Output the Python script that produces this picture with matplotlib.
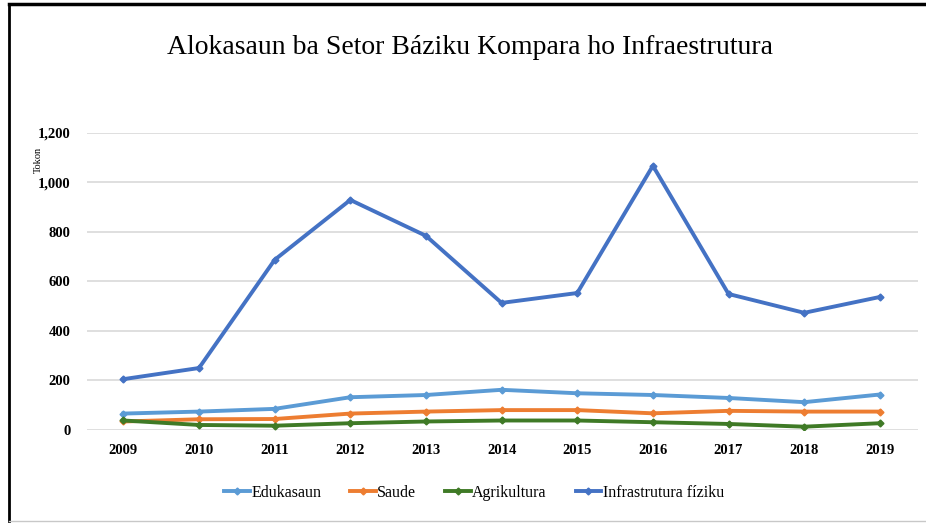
import matplotlib.pyplot as plt
from matplotlib.lines import Line2D
from matplotlib import font_manager

years = [2009, 2010, 2011, 2012, 2013, 2014, 2015, 2016, 2017, 2018, 2019]
edukasaun = [66, 74, 85, 132, 141, 162, 148, 141, 129, 112, 143]
saude = [34, 43, 44, 66, 74, 80, 80, 67, 77, 74, 74]
agrikultura = [38, 20, 17, 27, 34, 38, 38, 31, 24, 13, 27]
infrastrutura = [205, 250, 687, 929, 784, 513, 553, 1067, 549, 473, 537]
yticks = [0, 200, 400, 600, 800, 1000, 1200]

series = [
  ('Edukasaun', edukasaun, '#5B9BD5'),
  ('Saude', saude, '#ED7D31'),
  ('Agrikultura', agrikultura, '#3F7A26'),
  ('Infrastrutura fíziku', infrastrutura, '#4472C4'),
]

# condensed serif for the title if there is one
names = set(f.name for f in font_manager.fontManager.ttflist)
title_font = 'DejaVu Serif Condensed' if 'DejaVu Serif Condensed' in names else 'Liberation Serif'
print(sorted(n for n in names if 'Serif' in n or 'Narrow' in n or 'Condensed' in n))

fig = plt.figure(figsize=(9.26, 5.23), dpi=100)
ax = fig.add_axes([0.094, 0.178, 0.897, 0.568])

for name, vals, col in series:
  ax.plot(years, vals, color=col, lw=2.8, marker='D', ms=3.5, label=name)

ax.set_xlim(2008.52, 2019.5)
ax.set_ylim(0, 1200)
ax.set_xticks(years)
ax.set_xticklabels([str(y) for y in years], family='Liberation Serif',
                   fontweight='bold', fontsize=10.5)
ax.set_yticks(yticks)
ax.set_yticklabels(['{:,}'.format(v) for v in yticks], family='Liberation Serif',
                   fontweight='bold', fontsize=10.5)
ax.tick_params(length=0, pad=12)
ax.tick_params(axis='x', pad=10)
ax.grid(axis='y', color='#D9D9D9', lw=1.2)
ax.set_axisbelow(True)
for s in ax.spines.values():
  s.set_visible(False)

fig.text(0.041, 0.695, 'Tokon', rotation=90, family='Liberation Serif',
         fontsize=7.5, ha='center', va='center')

fig.text(0.508, 0.91, 'Alokasaun ba Setor Báziku Kompara ho Infraestrutura',
         family=title_font, fontsize=20, ha='center', va='center')

handles = [Line2D([], [], color=col, lw=2.8, marker='D', ms=3.5)
           for _, _, col in series]
fig.legend(handles, [n for n, _, _ in series], loc='center',
           bbox_to_anchor=(0.512, 0.058), ncol=4, frameon=False,
           prop={'family': 'Liberation Serif', 'size': 11.5},
           handlelength=1.6, handletextpad=0.1, columnspacing=1.8)

# frame around the picture: black on left and top, light on bottom
fig.add_artist(Line2D([0.010, 0.010], [0.004, 0.992], color='black', lw=2,
                      transform=fig.transFigure))
fig.add_artist(Line2D([0.010, 1.0], [0.992, 0.992], color='black', lw=2.5,
                      transform=fig.transFigure))
fig.add_artist(Line2D([0.010, 1.0], [0.004, 0.004], color='#C8C8C8', lw=1,
                      transform=fig.transFigure))

fig.savefig('out.png', dpi=100)
